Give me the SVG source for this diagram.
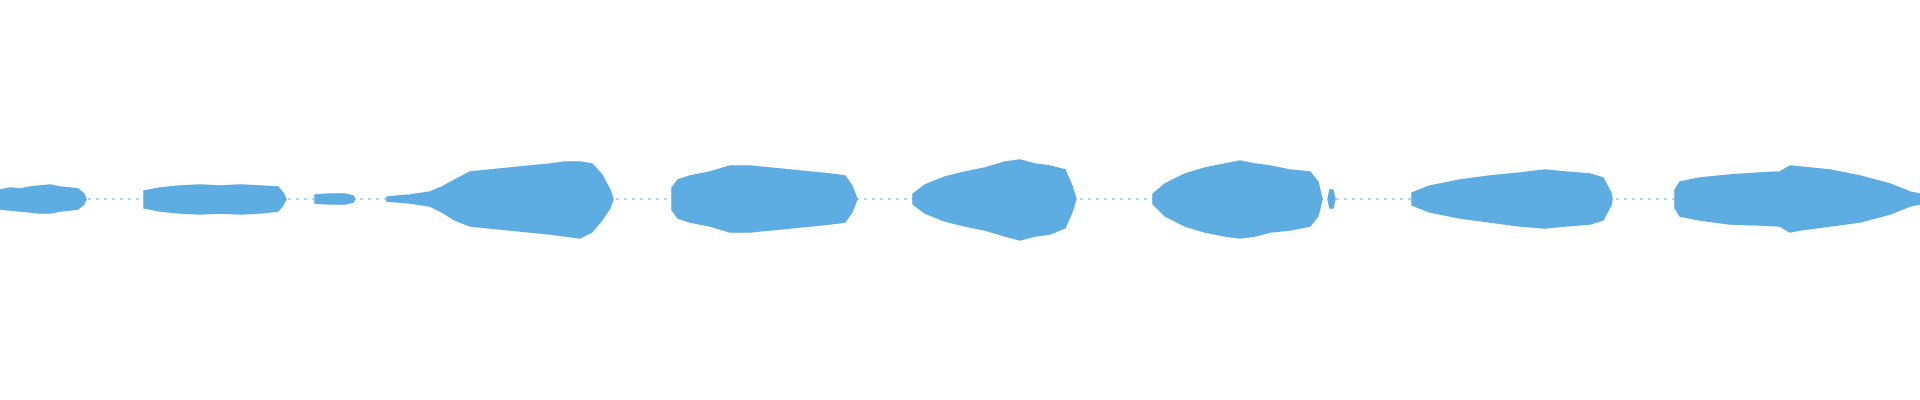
<svg xmlns="http://www.w3.org/2000/svg" width="1920" height="400" viewBox="0 0 1920 400">
<style>.w{fill:#5DADE2;stroke:#5DADE2;stroke-width:1.5;stroke-linejoin:miter}.l{stroke:#5DADE2;stroke-width:1;stroke-dasharray:3 5}</style>
<rect width="1920" height="400" fill="#fff"/>
<line class="l" x1="0" y1="199" x2="1920" y2="199"/>
<path class="w" d="M0,190 L10,188 L20,189 L30,187 L40,186 L50,185 L60,187 L70,188 L78,189 L84,194 L86,199 L84,204 L78,209 L70,210 L60,211 L50,213 L40,213 L30,212 L20,211 L10,210 L0,209 Z"/>
<path class="w" d="M144,191 L160,188 L180,186 L200,185 L220,186 L240,185 L260,186 L278,187 L283,193 L286,199 L283,205 L278,211 L260,213 L240,214 L220,213 L200,214 L180,213 L160,211 L144,208 Z"/>
<path class="w" d="M315,195 L330,194 L345,194 L353,196 L355,199 L353,202 L345,204 L330,204 L315,203 Z"/>
<path class="w" d="M387,197 L410,195 L430,192 L442,187 L455,180 L470,172 L490,170 L510,168 L530,166 L550,164 L565,162 L580,162 L592,164 L602,175 L610,190 L613,199 L610,208 L602,220 L592,232 L580,238 L565,236 L550,234 L530,232 L510,230 L490,228 L470,226 L455,220 L442,212 L430,206 L410,203 L387,201 Z"/>
<path class="w" d="M672,188 L678,180 L690,176 L710,172 L730,166 L750,166 L770,168 L790,170 L810,172 L830,174 L845,176 L852,186 L857,199 L852,212 L845,222 L830,224 L810,226 L790,228 L770,230 L750,232 L730,232 L710,226 L690,222 L678,218 L672,210 Z"/>
<path class="w" d="M913,194 L925,185 L945,177 L965,172 L985,168 L1005,162 L1020,160 L1035,164 L1050,166 L1065,170 L1072,186 L1076,199 L1072,212 L1065,228 L1050,234 L1035,236 L1020,240 L1005,236 L985,230 L965,226 L945,221 L925,213 L913,204 Z"/>
<path class="w" d="M1153,194 L1165,184 L1185,174 L1205,168 L1225,164 L1240,161 L1255,164 L1270,166 L1290,170 L1310,172 L1318,182 L1322,199 L1318,216 L1310,226 L1290,230 L1270,232 L1255,236 L1240,238 L1225,236 L1205,232 L1185,226 L1165,216 L1153,204 Z"/>
<path class="w" d="M1328,199 L1330,190 L1333,190 L1335,199 L1333,208 L1330,208 Z"/>
<path class="w" d="M1412,193 L1430,186 L1460,180 L1490,176 L1520,173 L1545,170 L1565,172 L1590,174 L1603,178 L1611,193 L1612,199 L1611,205 L1603,220 L1590,224 L1565,226 L1545,228 L1520,226 L1490,222 L1460,218 L1430,212 L1412,205 Z"/>
<path class="w" d="M1675,190 L1680,182 L1700,178 L1730,175 L1760,173 L1780,172 L1790,166 L1800,167 L1830,170 L1860,176 L1890,184 L1910,192 L1920,194 L1920,204 L1910,206 L1890,214 L1860,222 L1830,226 L1800,230 L1790,232 L1780,226 L1760,225 L1730,224 L1700,220 L1680,216 L1675,208 Z"/>
</svg>
